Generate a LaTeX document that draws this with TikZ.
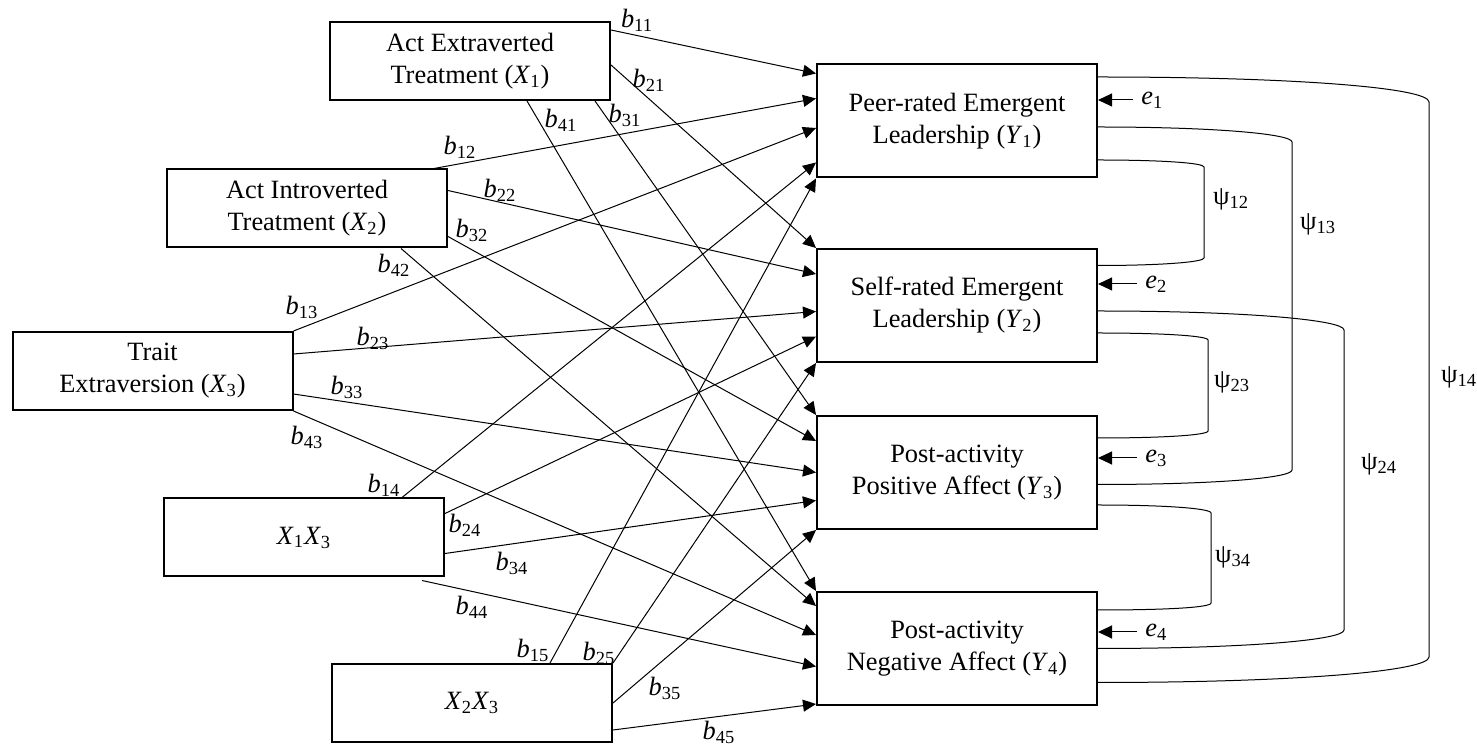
\documentclass[tikz,border=0pt]{standalone}
\usepackage{fontspec}
\setmainfont{Liberation Serif}
\usetikzlibrary{arrows.meta}
\newcommand{\vv}[2]{\textit{#1}\textsubscript{#2}}

\tikzset{
  xbox/.style={draw, line width=1pt, minimum width=140pt, minimum height=39pt, align=center},
  ybox/.style={draw, line width=1pt, minimum width=140pt, minimum height=56.5pt, align=center},
  pth/.style={-{Triangle[length=6.5pt,width=6pt]}, line width=0.5pt},
  cov/.style={line width=0.5pt},
  coef/.style={inner sep=1pt}
}

\begin{document}
\begin{tikzpicture}[x=0.5pt,y=-0.5pt,font=\fontsize{13.2pt}{16pt}\selectfont]
\useasboundingbox (0,0) rectangle (1477,747);

% predictors
\node[xbox] (X1) at (470,61) {Act Extraverted\\Treatment (\vv{X}{1})};
\node[xbox] (X2) at (307,208.5) {Act Introverted\\Treatment (\vv{X}{2})};
\node[xbox] (X3) at (152.5,371) {Trait\\Extraversion (\vv{X}{3})};
\node[xbox] (X13) at (304,537.5) {\vv{X}{1}\vv{X}{3}};
\node[xbox] (X23) at (472,703) {\vv{X}{2}\vv{X}{3}};

% outcomes
\node[ybox] (Y1) at (957,121) {Peer-rated Emergent\\Leadership (\vv{Y}{1})};
\node[ybox] (Y2) at (957,305.5) {Self-rated Emergent\\Leadership (\vv{Y}{2})};
\node[ybox] (Y3) at (957,472.5) {Post-activity\\Positive Affect (\vv{Y}{3})};
\node[ybox] (Y4) at (957,648.5) {Post-activity\\Negative Affect (\vv{Y}{4})};

% paths
\draw[pth] ([yshift=-4.5pt]X1.north east) -- ([yshift=-5pt]Y1.north west);
\draw[pth] ([yshift=-2pt]X1.east) -- (Y2.north west);
\draw[pth] ([xshift=-8pt]X1.south east) -- (Y3.north west);
\draw[pth] ([xshift=28.5pt]X1.south) -- (Y4.north west);

\draw[pth] ([xshift=-7pt]X2.north east) -- ([yshift=-17.5pt]Y1.north west);
\draw[pth] ([yshift=-11pt]X2.north east) -- ([yshift=-13pt]Y2.north west);
\draw[pth] ([yshift=6pt]X2.south east) -- ([yshift=-13pt]Y3.north west);
\draw[pth] ([xshift=-23.5pt]X2.south east) -- ([yshift=-7.5pt]Y4.north west);

\draw[pth] (X3.north east) -- ([yshift=-3.5pt]Y1.west);
\draw[pth] ([yshift=8.5pt]X3.east) -- ([yshift=-3pt]Y2.west);
\draw[pth] ([yshift=-11.5pt]X3.east) -- (Y3.west);
\draw[pth] (X3.south east) -- ([yshift=6.75pt]Y4.west);

\draw[pth] ([xshift=-21.5pt]X13.north east) -- ([yshift=8pt]Y1.south west);
\draw[pth] ([yshift=-8pt]X13.north east) -- ([yshift=-15.5pt]Y2.west);
\draw[pth] ([yshift=-8pt]X13.east) -- ([yshift=-14pt]Y3.west);
\draw[pth] ([xshift=-11.5pt,yshift=-1.5pt]X13.south east) -- ([yshift=-9pt]Y4.west);

\draw[pth] ([xshift=-31.5pt]X23.north east) -- (Y1.south west);
\draw[pth] (X23.north east) -- (Y2.south west);
\draw[pth] (X23.east) -- (Y3.south west);
\draw[pth] ([yshift=-13.5pt]X23.east) -- ([yshift=1pt]Y4.south west);

% path coefficients
\foreach \i/\px/\py in {11/637/20, 21/649/80, 31/625/115, 41/561/120,
  12/460/147, 22/500/190, 32/472/230, 42/394/265,
  13/302/307, 23/373/338, 33/347/387, 43/307/437,
  14/384/485, 24/465/525, 34/512/563, 44/472/607,
  15/533/650, 25/599/653, 35/665/688, 45/719/732}
  \node[coef] (b\i) at (\px,\py) {\vv{b}{\i}};

% residuals
\node[coef, anchor=west] (e1) at (1139,100) {\vv{e}{1}};
\node[coef, anchor=west] (e2) at (1143,284) {\vv{e}{2}};
\node[coef, anchor=west] (e3) at (1143,458) {\vv{e}{3}};
\node[coef, anchor=west] (e4) at (1143,632) {\vv{e}{4}};
\foreach \k in {1,2,3,4}
  \draw[pth, -{Triangle[length=7pt,width=6.5pt]}] ([xshift=-3pt]e\k.west) -- (e\k.west -| Y\k.east);

% residual covariances
\draw[cov] ([yshift=-19.5pt]Y1.east) .. controls +(64,0) and +(0,-4) .. (1204,167)
  -- (1204,258) .. controls +(0,4) and +(64,0) .. ([yshift=20pt]Y2.east);
\draw[cov] ([yshift=-3pt]Y1.east) .. controls +(117,0) and +(0,-8) .. (1292,142)
  -- (1292,470) .. controls +(0,8) and +(117,0) .. ([yshift=-6pt]Y3.east);
\draw[cov] ([yshift=22pt]Y1.east) .. controls +(200,0) and +(0,-14) .. (1429,102)
  -- (1429,657) .. controls +(0,14) and +(200,0) .. ([yshift=-17pt]Y4.east);
\draw[cov] ([yshift=-13.75pt]Y2.east) .. controls +(67,0) and +(0,-4) .. (1208,340)
  -- (1208,431) .. controls +(0,4) and +(67,0) .. ([yshift=17.25pt]Y3.east);
\draw[cov] ([yshift=-2.75pt]Y2.east) .. controls +(148,0) and +(0,-10) .. (1344,330)
  -- (1344,630) .. controls +(0,10) and +(148,0) .. (Y4.east);
\draw[cov] ([yshift=-16.25pt]Y3.east) .. controls +(68,0) and +(0,-4.5) .. (1211,513)
  -- (1211,603) .. controls +(0,4.5) and +(68,0) .. ([yshift=19.25pt]Y4.east);

\foreach \i/\px/\py in {12/1231/199, 13/1318/224, 14/1459/377,
  23/1232/382, 24/1379/464, 34/1233/557}
  \node[coef] (psi\i) at (\px,\py) {ψ\textsubscript{\i}};

\end{tikzpicture}
\end{document}
